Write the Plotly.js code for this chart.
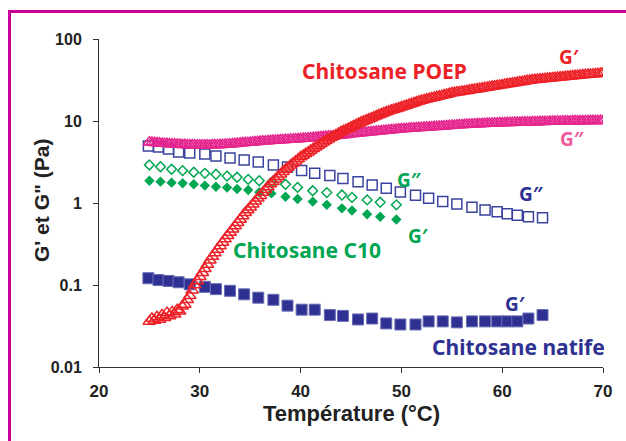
<!DOCTYPE html>
<html><head><meta charset="utf-8">
<script src="https://cdn.plot.ly/plotly-3.0.1.min.js"></script>
<style>
html,body{margin:0;padding:0;background:#fff;}
#wrap{position:relative;width:626px;height:441px;overflow:hidden;}
#chart{position:absolute;left:0;top:0;width:626px;height:441px;}
#frame{position:absolute;left:8px;top:10px;width:700px;height:500px;border-left:3px solid #c8009a;border-top:3px solid #c8009a;pointer-events:none;}
</style></head>
<body><div id="wrap"><div id="chart"></div><div id="frame"></div></div>
<script>
// Chitosane natife (blue squares)
const natifeT = [24.9,25.9,26.9,27.9,29.0,30.5,31.6,33.0,34.4,35.8,37.3,38.7,40.1,41.4,42.9,44.2,45.7,47.1,48.5,49.9,51.4,52.7,54.1,55.5,57.0,58.3,59.5,60.5,61.5,62.6,64.0];
const natifeGp = [0.121,0.115,0.112,0.108,0.102,0.095,0.089,0.085,0.077,0.070,0.066,0.056,0.050,0.050,0.043,0.042,0.038,0.039,0.034,0.033,0.033,0.036,0.036,0.035,0.036,0.036,0.036,0.036,0.036,0.039,0.043];
const natifeGpp = [4.96,4.82,4.56,4.19,4.07,3.96,3.74,3.54,3.34,3.16,2.91,2.75,2.49,2.30,2.16,1.99,1.82,1.66,1.51,1.36,1.24,1.14,1.04,0.97,0.89,0.82,0.78,0.74,0.71,0.68,0.66];

// Chitosane C10 (green diamonds)
const c10T = [25.0,26.1,27.2,28.3,29.4,30.5,31.6,32.7,33.7,34.8,35.9,37.1,38.5,39.7,41.2,42.6,44.1,45.1,46.6,47.9,49.5];
const c10Gpp = [2.91,2.77,2.58,2.48,2.37,2.30,2.24,2.13,2.06,1.94,1.87,1.78,1.69,1.55,1.41,1.34,1.25,1.17,1.09,1.02,0.95];
const c10Gp = [1.87,1.82,1.77,1.74,1.69,1.63,1.58,1.54,1.48,1.44,1.35,1.31,1.19,1.12,1.04,0.95,0.86,0.81,0.73,0.68,0.63];

// Chitosane POEP (triangles), dense temperature ramp
const poepT = [25.0,25.25,25.5,25.75,26.0,26.25,26.5,26.75,27.0,27.25,27.5,27.75,28.0,28.25,28.5,28.75,29.0,29.25,29.5,29.75,30.0,30.25,30.5,30.75,31.0,31.25,31.5,31.75,32.0,32.25,32.5,32.75,33.0,33.25,33.5,33.75,34.0,34.25,34.5,34.75,35.0,35.25,35.5,35.75,36.0,36.25,36.5,36.75,37.0,37.25,37.5,37.75,38.0,38.25,38.5,38.75,39.0,39.25,39.5,39.75,40.0,40.25,40.5,40.75,41.0,41.25,41.5,41.75,42.0,42.25,42.5,42.75,43.0,43.25,43.5,43.75,44.0,44.25,44.5,44.75,45.0,45.25,45.5,45.75,46.0,46.25,46.5,46.75,47.0,47.25,47.5,47.75,48.0,48.25,48.5,48.75,49.0,49.25,49.5,49.75,50.0,50.25,50.5,50.75,51.0,51.25,51.5,51.75,52.0,52.25,52.5,52.75,53.0,53.25,53.5,53.75,54.0,54.25,54.5,54.75,55.0,55.25,55.5,55.75,56.0,56.25,56.5,56.75,57.0,57.25,57.5,57.75,58.0,58.25,58.5,58.75,59.0,59.25,59.5,59.75,60.0,60.25,60.5,60.75,61.0,61.25,61.5,61.75,62.0,62.25,62.5,62.75,63.0,63.25,63.5,63.75,64.0,64.25,64.5,64.75,65.0,65.25,65.5,65.75,66.0,66.25,66.5,66.75,67.0,67.25,67.5,67.75,68.0,68.25,68.5,68.75,69.0,69.25,69.5,69.75,70.0];
const poepGp = [0.036,0.039,0.037,0.041,0.038,0.043,0.040,0.046,0.042,0.047,0.044,0.050,0.048,0.055,0.058,0.066,0.074,0.086,0.100,0.112,0.126,0.141,0.158,0.178,0.200,0.222,0.245,0.271,0.300,0.330,0.363,0.398,0.437,0.479,0.525,0.575,0.630,0.692,0.760,0.822,0.890,0.968,1.05,1.14,1.23,1.34,1.45,1.57,1.70,1.82,1.95,2.09,2.24,2.40,2.57,2.72,2.88,3.06,3.24,3.43,3.63,3.80,3.98,4.17,4.37,4.58,4.79,5.01,5.25,5.50,5.75,5.99,6.24,6.49,6.76,7.04,7.33,7.59,7.85,8.12,8.41,8.71,9.02,9.34,9.66,9.93,10.2,10.5,10.8,11.15,11.5,11.85,12.2,12.55,12.9,13.2,13.5,13.8,14.1,14.45,14.8,15.15,15.5,15.85,16.2,16.6,17.0,17.4,17.8,18.1,18.4,18.75,19.1,19.4,19.7,20.05,20.4,20.75,21.1,21.5,21.9,22.15,22.4,22.65,22.9,23.15,23.4,23.7,24.0,24.25,24.5,24.8,25.1,25.4,25.7,26.0,26.3,26.6,26.9,27.2,27.5,27.85,28.2,28.5,28.8,29.15,29.5,29.85,30.2,30.55,30.9,31.25,31.6,31.85,32.1,32.3,32.5,32.75,33.0,33.2,33.4,33.65,33.9,34.15,34.4,34.6,34.8,35.05,35.3,35.55,35.8,36.05,36.3,36.55,36.8,37.05,37.3,37.55,37.8,38.1,38.4];
const poepGpp = [5.50,5.46,5.42,5.38,5.35,5.32,5.30,5.27,5.25,5.22,5.20,5.18,5.16,5.14,5.12,5.11,5.10,5.09,5.08,5.07,5.07,5.07,5.07,5.07,5.08,5.09,5.10,5.11,5.13,5.15,5.17,5.19,5.22,5.25,5.28,5.31,5.35,5.38,5.42,5.45,5.48,5.52,5.55,5.59,5.62,5.65,5.68,5.71,5.74,5.77,5.80,5.83,5.86,5.88,5.91,5.93,5.96,5.98,6.01,6.03,6.06,6.10,6.14,6.18,6.22,6.26,6.30,6.34,6.38,6.42,6.46,6.50,6.54,6.58,6.63,6.67,6.72,6.77,6.82,6.87,6.92,6.97,7.02,7.07,7.12,7.17,7.22,7.27,7.33,7.38,7.44,7.49,7.55,7.60,7.66,7.71,7.77,7.82,7.88,7.93,7.98,8.02,8.06,8.10,8.14,8.18,8.22,8.26,8.30,8.34,8.38,8.41,8.45,8.49,8.53,8.57,8.61,8.65,8.70,8.74,8.79,8.83,8.88,8.92,8.97,9.01,9.06,9.09,9.12,9.15,9.18,9.21,9.24,9.27,9.30,9.33,9.36,9.39,9.42,9.44,9.47,9.49,9.51,9.53,9.55,9.57,9.59,9.61,9.63,9.65,9.67,9.69,9.71,9.73,9.75,9.77,9.79,9.81,9.83,9.84,9.86,9.87,9.89,9.90,9.92,9.93,9.95,9.96,9.98,9.99,10.0,10.01,10.02,10.03,10.04,10.05,10.06,10.07,10.08,10.09,10.1];

const yTicks = [0.01,0.1,1,10,100];
const yTickText = ['0.01','0.1','1','10','100'];

const BLUE='#2e3192', GREEN='#00a651', RED='#ed2228', PINK='#e5258e', PINKTXT='#ee5a9e';

const traces = [
  {x:natifeT, y:natifeGpp, mode:'markers', marker:{symbol:'square-open', size:10, color:'#3a449e', line:{width:1.5}}},
  {x:natifeT, y:natifeGp, mode:'markers', marker:{symbol:'square', size:11, color:BLUE, line:{width:1, color:'#6a6db3'}}},
  {x:c10T, y:c10Gpp, mode:'markers', marker:{symbol:'diamond-open', size:7.5, color:GREEN, line:{width:1.5}}},
  {x:c10T, y:c10Gp, mode:'markers', marker:{symbol:'diamond', size:8, color:GREEN, line:{width:0}}},
  {x:poepT, y:poepGpp, mode:'markers', marker:{symbol:'triangle-up-open', size:11, color:PINK, line:{width:1.5}}},
  {x:poepT, y:poepGp, mode:'markers', marker:{symbol:'triangle-up-open', size:11, color:RED, line:{width:1.5}}}
];

const lab = (text, x, y, color, size) => ({text, x, y, xref:'x', yref:'y', showarrow:false, xanchor:'center', yanchor:'middle',
  font:{family:'Noto Sans, DejaVu Sans, sans-serif', size:size, color:color, weight:'bold'}});

const layout = {
  width:626, height:441,
  margin:{l:99, r:23, t:39, b:74, pad:0},
  paper_bgcolor:'#fff', plot_bgcolor:'#fff',
  showlegend:false,
  xaxis:{range:[20,70], dtick:10, tick0:20, showgrid:false, zeroline:false, showline:true, linecolor:'#333', linewidth:1,
    ticks:'outside', ticklen:5, tickcolor:'#333', ticklabelstandoff:4,
    tickfont:{family:'Liberation Sans, Arial, sans-serif', size:17, color:'#222', weight:'bold'}},
  yaxis:{type:'log', range:[-2,2], tickvals:yTicks, ticktext:yTickText, showgrid:false, zeroline:false, showline:true,
    linecolor:'#333', linewidth:1, ticks:'outside', ticklen:5, tickcolor:'#333', ticklabelstandoff:8,
    tickfont:{family:'Liberation Sans, Arial, sans-serif', size:16, color:'#222', weight:'bold'}},
  annotations:[
    {text:'Température (°C)', xref:'paper', yref:'paper', x:0.5, y:-0.142, xanchor:'center', yanchor:'middle', showarrow:false,
      font:{family:'Liberation Sans, Arial, sans-serif', size:22, color:'#222', weight:'bold'}},
    {text:'G\' et G" (Pa)', xref:'paper', yref:'paper', x:-0.1151, y:0.509, xanchor:'center', yanchor:'middle', textangle:-90, showarrow:false,
      font:{family:'Liberation Sans, Arial, sans-serif', size:21, color:'#222', weight:'bold'}},
    lab('Chitosane POEP', 48.37, 1.61, RED, 21),
    lab('Chitosane C10', 40.68, -0.573, GREEN, 21),
    lab('Chitosane natife', 61.62, -1.756, BLUE, 21),
    lab('G′', 66.63, 1.78, RED, 19),
    lab('G″', 67.0, 0.78, PINKTXT, 19),
    lab('G″', 50.85, 0.28, GREEN, 19),
    lab('G″', 62.86, 0.11, BLUE, 19),
    lab('G′', 51.65, -0.40, GREEN, 19),
    lab('G′', 61.27, -1.232, BLUE, 19)
  ]
};

Plotly.newPlot('chart', traces, layout, {displayModeBar:false, staticPlot:true});
</script></body></html>
